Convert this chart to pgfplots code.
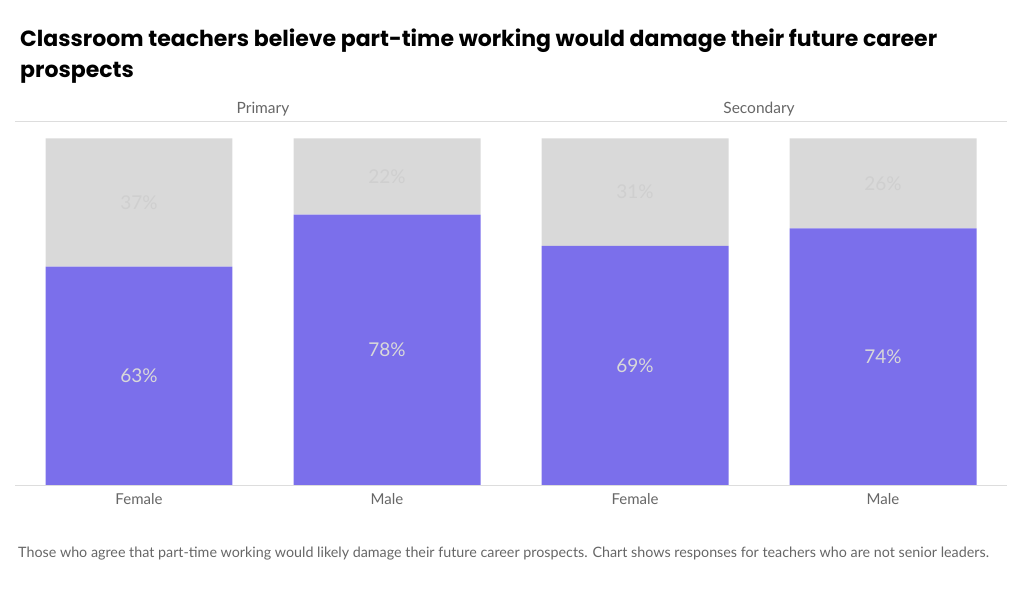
\documentclass[border=0pt]{standalone}
\usepackage{fontspec}
\setmainfont{Lato}
\newfontfamily\titlefont{Poppins}
\usepackage{pgfplots}
\pgfplotsset{compat=1.18}

\definecolor{agree}{HTML}{7B6FEB}
\definecolor{rest}{HTML}{D9D9D9}
\definecolor{labtxt}{HTML}{666666}
\definecolor{rule}{HTML}{DDDDDD}

\begin{document}
\begin{tikzpicture}[x=1pt,y=1pt]
\useasboundingbox (0,0) rectangle (1024,602);

% title and note
\node[anchor=base west, inner sep=0, font=\titlefont\bfseries\fontsize{22}{31}\selectfont]
  at (20,555) {Classroom teachers believe part-time working would damage their future career};
\node[anchor=base west, inner sep=0, font=\titlefont\bfseries\fontsize{22}{31}\selectfont]
  at (20,524) {prospects};
\node[anchor=base west, inner sep=0, text=labtxt, font=\fontsize{14.3}{16}\selectfont]
  at (18,45) {Those who agree that part-time working would likely damage their future career prospects. Chart shows responses for teachers who are not senior leaders.};

\begin{axis}[
    at={(15pt,117pt)}, anchor=south west,
    width=992pt, height=364pt, scale only axis,
    ybar stacked, bar width=0.754,
    xmin=-0.5, xmax=3.5, ymin=0, ymax=105,
    axis lines=none,
    clip=false,
]
\addplot[fill=agree, draw=none] coordinates {(0,63) (1,78) (2,69) (3,74)};
\addplot[fill=rest, draw=none] coordinates {(0,37) (1,22) (2,31) (3,26)};
\draw[rule, line width=0.8pt] (rel axis cs:0,0) -- (rel axis cs:1,0);
\draw[rule, line width=0.8pt] (rel axis cs:0,1) -- (rel axis cs:1,1);
\node[text=labtxt, anchor=base, font=\fontsize{15.5}{18}\selectfont] at (axis cs:0.5,107.2) {Primary};
\node[text=labtxt, anchor=base, font=\fontsize{15.5}{18}\selectfont] at (axis cs:2.5,107.2) {Secondary};
\end{axis}

% labels inside the bars and category names
\begin{axis}[
    at={(15pt,117pt)}, anchor=south west,
    width=992pt, height=364pt, scale only axis,
    xmin=-0.5, xmax=3.5, ymin=0, ymax=105,
    axis line style={draw=none}, clip=false,
    xtick={0,1,2,3}, xticklabels={Female,Male,Female,Male},
    xticklabel style={text=labtxt, font=\fontsize{15}{18}\selectfont, yshift=-5pt},
    tick style={draw=none}, ytick=\empty,
]
\addplot[only marks, mark=none, point meta=explicit symbolic,
  nodes near coords, nodes near coords align={center},
  nodes near coords style={text=black!15, font=\fontsize{19}{22}\selectfont, anchor=center}]
  coordinates {(0,31.5)[63\%] (1,39)[78\%] (2,34.5)[69\%] (3,37)[74\%]};
\addplot[only marks, mark=none, point meta=explicit symbolic,
  nodes near coords, nodes near coords align={center},
  nodes near coords style={text=black!19, font=\fontsize{19}{22}\selectfont, anchor=center}]
  coordinates {(0,81.5)[37\%] (1,89)[22\%] (2,84.5)[31\%] (3,87)[26\%]};
\end{axis}
\end{tikzpicture}
\end{document}
